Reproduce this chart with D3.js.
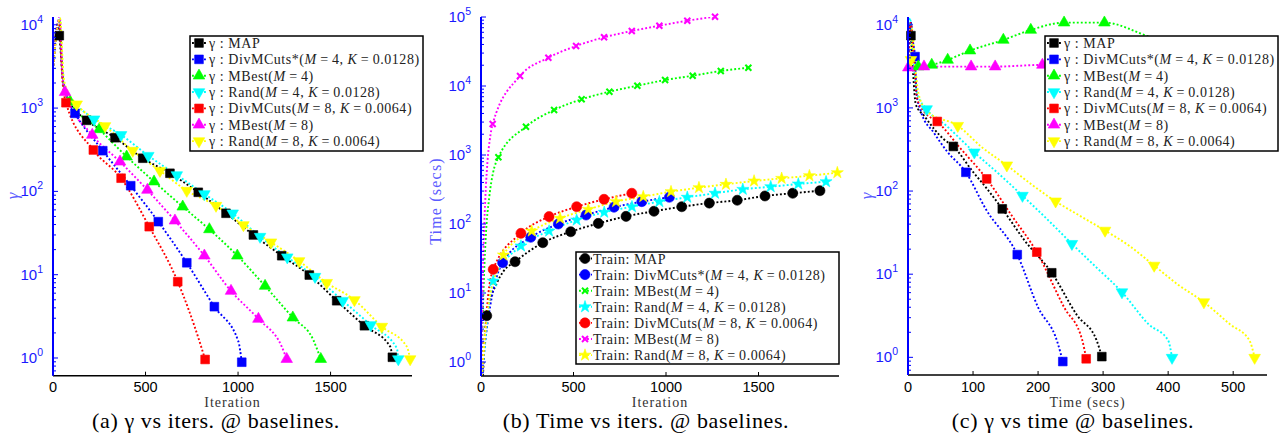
<!DOCTYPE html>
<html><head><meta charset="utf-8">
<script src="https://cdn.jsdelivr.net/npm/d3@7"></script>
<style>body{margin:0;background:#fff}svg{display:block}</style>
</head><body><svg id="c" width="1280" height="434"></svg>
<script>
// ================= DATA =================
const seriesNames = ["MAP","DivMCuts*(M=4, K=0.0128)","MBest(M=4)","Rand(M=4, K=0.0128)","DivMCuts(M=8, K=0.0064)","MBest(M=8)","Rand(M=8, K=0.0064)"];
const captions = ["(a) γ vs iters. @ baselines.","(b) Time vs iters. @ baselines.","(c) γ vs time @ baselines."];
const xLabels = ["Iteration","Iteration","Time (secs)"];
const yLabels = ["γ","Time (secs)","γ"];
const xTicksIter = [0,500,1000,1500];
const xTicksTime = [0,100,200,300,400,500];
const yDecadesGamma = [0,1,2,3,4];
const yDecadesTime = [0,1,2,3,4,5];

// (a) gamma vs iteration : markers / extra line points
const aMAP   = [[34,7400],[182,713],[335,441],[485,250],[632,165],[785,97.5],[935,54.6],[1083,30],[1236,16.9],[1385,9.9],[1533,4.87],[1683,2.44],[1834,1.02]];
const aMAPx  = [[0,2900],[26,10000],[55,2100],[80,1300],[120,950],[1822,1.37]];
const aDivS  = [[119,865],[269,308],[420,117],[569,43.3],[723,13.9],[872,4.13],[1020,0.89]];
const aDivSx = [[0,2900],[30,11000],[55,2000],[80,1250],[1002,1.57]];
const aMB4   = [[92,1194],[250,556],[398,261],[546,131],[701,65.5],[845,35],[996,16.9],[1146,7.32],[1296,3.05],[1447,0.97]];
const aMB4x  = [[0,2900],[34,11500],[55,2100],[72,1450],[1407,1.64]];
const aR4    = [[222,734],[368,476],[515,268],[669,157],[818,93],[971,54.6],[1119,28.6],[1266,16.2],[1416,9.46],[1566,4.87],[1717,2.49],[1866,0.97]];
const aR4x   = [[0,2900],[36,12000],[55,2200],[80,1450],[130,1050],[175,880],[1858,1.31]];
const aDiv8  = [[70,1160],[218,314],[368,144],[520,37.7],[674,8.24],[822,0.96]];
const aDiv8x = [[0,2900],[32,11000],[52,2000],[795,1.5]];
const aMB8   = [[65,1550],[212,476],[362,227],[510,104],[659,44.5],[818,16.9],[962,6.37],[1110,2.94],[1263,0.97]];
const aMB8x  = [[0,2900],[36,12500],[52,2400],[1236,1.37]];
const aR8    = [[128,1111],[281,610],[431,308],[578,177],[723,102],[881,67.4],[1029,39.5],[1178,24.5],[1330,14.6],[1479,8.0],[1629,4.97],[1777,2.38],[1930,0.97]];
const aR8x   = [[0,2900],[38,12000],[58,2300],[85,1500],[1912,1.37]];

// (b) time vs iteration
const bMAP   = [[31,4.69],[184,28.4],[334,53.6],[485,77.3],[634,102],[784,129],[935,153],[1085,178],[1234,201],[1385,221],[1535,255],[1685,279],[1832,304]];
const bMAPx  = [[10,0.55],[20,2.2],[85,13.8],[120,20.4]];
const bDivS  = [[117,27.5],[269,64.2],[418,100],[568,135],[719,175],[869,211],[1018,244]];
const bDivSx = [[4,0.55],[22,1.87],[49,6.3],[85,17.2]];
const bMB4   = [[94,926],[243,2570],[395,4490],[544,6420],[694,8270],[845,10100],[995,12200],[1144,14100],[1296,16500],[1445,18400]];
const bMB4x  = [[2,0.55],[12,8],[25,60],[45,250],[65,550]];
const bR4    = [[66,14.9],[216,48],[368,79],[517,114],[666,148],[816,178],[964,211],[1115,244],[1265,279],[1415,318],[1566,347],[1715,380],[1865,410]];
const bR4x   = [[4,0.55],[20,1.6],[40,6]];
const bDiv8  = [[66,22],[216,73.3],[368,128],[517,178],[665,228],[815,279]];
const bDiv8x = [[3,0.55],[22,2.6],[40,9.9]];
const bMB8   = [[63,2810],[211,13960],[364,25700],[514,38000],[665,50800],[815,62700],[964,74800],[1115,88300],[1265,101000]];
const bMB8x  = [[1,0.55],[8,10],[18,100],[35,800],[48,1700]];
const bR8    = [[121,35.5],[274,79],[427,121],[580,163],[730,211],[877,249],[1027,294],[1178,336],[1324,376],[1476,420],[1625,459],[1775,501],[1926,554]];
const bR8x   = [[3,0.55],[20,2.2],[45,8],[76,17.2]];

// (c) gamma vs time (secs)
const cMAP   = [[4.5,7400],[69.7,344],[145,61],[221,10.4],[298,1.02]];
const cMAPx  = [[0,3000],[3,10000],[8,2500],[12,1100],[25,800],[40,560],[55,420],[100,170],[120,110],[180,25],[260,3.2],[290,1.6]];
const cDivS  = [[10.8,4140],[89,168],[168,17.2],[238,0.89]];
const cDivSx = [[0,3000],[4,11000],[8,6000],[13,1500],[20,900],[40,500],[60,300],[120,60],[200,4],[230,1.5]];
const cMB4   = [[15.8,3140],[36.5,3290],[61,3780],[95.4,4890],[146.6,6570],[188.8,8660],[240,10600],[302,10600]];
const cMB4x  = [[0,3000],[375,7000],[420,5500],[552,3500]];
const cR4    = [[28.7,968],[102,292],[176,88],[252,23.2],[329,6.08],[406,0.99]];
const cR4x   = [[0,3000],[3,12000],[8,4000],[14,1500],[60,600],[140,160],[215,45],[290,12],[370,2.5],[400,1.6]];
const cDiv8  = [[45,687],[121,140],[198,18.4],[274,0.96]];
const cDiv8x = [[0,3000],[4,10500],[9,4000],[14,1300],[25,900],[80,330],[160,50],[240,4],[268,1.6]];
const cMB8   = [[0.5,3055],[24.6,3140],[97,3140],[134,3140],[206.6,3290]];
const cMB8x  = [[280,3300],[552,3300]];
const cR8    = [[4.6,3780],[76.5,610],[152,204],[227,75.2],[303,33.5],[378.5,12.7],[455,4.61],[533,0.99]];
const cR8x   = [[0,3000],[6,9000],[10,4000],[16,1500],[30,900],[115,330],[190,120],[265,50],[340,22],[415,7.5],[495,2.5],[525,1.6]];

// ================= STYLE / LAYOUT =================
const colors = ["#000000","#0000ff","#00ff00","#00ffff","#ff0000","#ff00ff","#ffff00"];
const gammaMarks = ["square","square","triUp","triDown","square","triUp","triDown"];
const timeMarks  = ["circle","circle","x","star","circle","x","star"];

const panels = [
  {x0:53, x1:412, yb:375.7, yt:17, xdom:[0,1940], ydom:[0.613,12400], xt:xTicksIter, yd:yDecadesGamma,
   marks:gammaMarks, prefix:"γ : ",
   data:[[aMAP,aMAPx],[aDivS,aDivSx],[aMB4,aMB4x],[aR4,aR4x],[aDiv8,aDiv8x],[aMB8,aMB8x],[aR8,aR8x]],
   leg:{x:190,y:36,w:233,h:115,r0:43,dr:16.35,mx:199,l0:190,l1:207,tx:209}, ylx:18, yly:196, capx:216},
  {x0:481, x1:839, yb:376, yt:17, xdom:[0,1935], ydom:[0.627,100000], xt:xTicksIter, yd:yDecadesTime,
   marks:timeMarks, prefix:"Train: ",
   data:[[bMAP,bMAPx],[bDivS,bDivSx],[bMB4,bMB4x],[bR4,bR4x],[bDiv8,bDiv8x],[bMB8,bMB8x],[bR8,bR8x]],
   leg:{x:576,y:252,w:263,h:112,r0:258.5,dr:16.1,mx:585,l0:577,l1:592,tx:593}, ylx:441, yly:201, capx:646},
  {x0:908, x1:1267, yb:375, yt:17, xdom:[0,552], ydom:[0.613,12400], xt:xTicksTime, yd:yDecadesGamma,
   marks:gammaMarks, prefix:"γ : ",
   data:[[cMAP,cMAPx],[cDivS,cDivSx],[cMB4,cMB4x],[cR4,cR4x],[cDiv8,cDiv8x],[cMB8,cMB8x],[cR8,cR8x]],
   leg:{x:1045,y:36,w:233,h:115,r0:43,dr:16.35,mx:1054,l0:1045,l1:1062,tx:1064}, ylx:872, yly:196, capx:1073}
];

const svg = d3.select("#c");
const SERIF = "'Liberation Serif','Times New Roman',serif";
const SANS = "'Liberation Sans',Arial,Helvetica,sans-serif";

function markerPath(type){
  switch(type){
    case "square": return d3.symbol(d3.symbolSquare, 76)();
    case "triUp": return d3.symbol(d3.symbolTriangle, 58)();
    case "triDown": return d3.symbol(d3.symbolTriangle, 58)();
    case "circle": return d3.symbol(d3.symbolCircle, 80)();
    case "star": return d3.symbol(d3.symbolStar, 45)();
    case "x": return "M-3,-3L3,3M-3,3L3,-3";
  }
}
function drawMarker(g, type, color, x, y){
  const p = g.append("path").attr("d", markerPath(type))
    .attr("transform", `translate(${x},${y})` + (type==="triDown"?" rotate(180)":""));
  if(type==="x"){ p.attr("fill","none").attr("stroke",color).attr("stroke-width",2); }
  else { p.attr("fill",color).attr("stroke",color).attr("stroke-width",0.6); }
}
function addName(t, prefix, name){
  t.append("tspan").text(prefix);
  const parts = name.split(/([MK])(?==)/);
  parts.forEach((p,i)=>{
    if(i%2===1) t.append("tspan").attr("font-style","italic").text(p);
    else t.append("tspan").text(p.replace(/=/g,"\u2009=\u2009"));
  });
}

panels.forEach((P,pi)=>{
  const x = d3.scaleLinear().domain(P.xdom).range([P.x0,P.x1]);
  const y = d3.scaleLog().domain(P.ydom).range([P.yb,P.yt]);
  const g = svg.append("g");
  const clipId = "clip"+pi;
  svg.append("clipPath").attr("id",clipId).append("rect")
    .attr("x",P.x0).attr("y",P.yt).attr("width",P.x1-P.x0).attr("height",P.yb-P.yt);

  // lines
  const line = d3.line().x(d=>x(d[0])).y(d=>y(d[1])).curve(d3.curveMonotoneX);
  P.data.forEach(([m,ex],si)=>{
    const pts = m.concat(ex).sort((a,b)=>a[0]-b[0]);
    g.append("path").attr("d",line(pts)).attr("fill","none")
      .attr("stroke",colors[si]).attr("stroke-width",1.9)
      .attr("stroke-dasharray","1.9,2.1").attr("clip-path",`url(#${clipId})`);
  });
  P.data.forEach(([m,ex],si)=>{
    const mg = g.append("g");
    m.forEach(d=>{ if(x(d[0])<=P.x1+2) drawMarker(mg,P.marks[si],colors[si],x(d[0]),y(d[1])); });
  });

  // axes
  const ax = svg.append("g");
  ax.append("line").attr("x1",P.x0).attr("x2",P.x1).attr("y1",P.yb).attr("y2",P.yb)
    .attr("stroke","#000").attr("stroke-width",1.5);
  P.xt.forEach(v=>{
    ax.append("line").attr("x1",x(v)).attr("x2",x(v)).attr("y1",P.yb).attr("y2",P.yb-4)
      .attr("stroke","#000").attr("stroke-width",1);
    ax.append("text").attr("x",x(v)).attr("y",392).attr("text-anchor","middle")
      .attr("font-family",SANS).attr("font-size",14.5).attr("fill","#000").text(v);
  });
  ax.append("line").attr("x1",P.x0).attr("x2",P.x0).attr("y1",P.yt).attr("y2",P.yb)
    .attr("stroke","#0000ff").attr("stroke-width",2);
  // y ticks (major + minor)
  const lo = Math.floor(Math.log10(P.ydom[0])), hi = Math.ceil(Math.log10(P.ydom[1]));
  for(let e=lo;e<=hi;e++){
    for(let k=1;k<10;k++){
      const v = k*Math.pow(10,e);
      if(v<P.ydom[0]||v>P.ydom[1]*1.0001) continue;
      ax.append("line").attr("x1",P.x0).attr("x2",P.x0+(k===1?5:3)).attr("y1",y(v)).attr("y2",y(v))
        .attr("stroke","#0000ff").attr("stroke-width",1);
    }
  }
  P.yd.forEach(e=>{
    const t = ax.append("text").attr("x",P.x0-10).attr("y",y(Math.pow(10,e))+5)
      .attr("text-anchor","end").attr("font-family",SANS).attr("font-size",15).attr("fill","#1a1aff");
    t.append("tspan").text("10");
    t.append("tspan").attr("dy",-7).attr("font-size",10.5).text(e);
  });
  // axis labels
  svg.append("text").attr("x",(P.x0+P.x1)/2).attr("y",406.5).attr("text-anchor","middle")
    .attr("font-family",SERIF).attr("font-size",14).attr("letter-spacing",1.0).attr("fill","#333")
    .text(xLabels[pi]);
  svg.append("text").attr("transform",`translate(${P.ylx},${P.yly}) rotate(-90)`)
    .attr("text-anchor","middle").attr("font-family",SERIF).attr("font-size",pi===1?16:17)
    .attr("letter-spacing",pi===1?1.2:0).attr("fill","#5b5bff").attr("font-style",pi===1?"normal":"italic")
    .text(yLabels[pi]);
  // caption
  svg.append("text").attr("x",P.capx).attr("y",428).attr("text-anchor","middle")
    .attr("font-family",SERIF).attr("font-size",22).attr("letter-spacing",0.6).attr("fill","#000")
    .text(captions[pi]);

  // legend
  const L = P.leg, lg = svg.append("g");
  lg.append("rect").attr("x",L.x).attr("y",L.y).attr("width",L.w).attr("height",L.h)
    .attr("fill","#fff").attr("stroke","#000").attr("stroke-width",1.5);
  seriesNames.forEach((nm,si)=>{
    const ry = L.r0 + si*L.dr;
    lg.append("line").attr("x1",L.l0+2).attr("x2",L.l1).attr("y1",ry).attr("y2",ry)
      .attr("stroke",colors[si]).attr("stroke-width",1.9).attr("stroke-dasharray","1.9,2.1");
    drawMarker(lg,P.marks[si],colors[si],L.mx,ry);
    const t = lg.append("text").attr("x",L.tx).attr("y",ry+5).attr("font-family",SERIF)
      .attr("font-size",14).attr("letter-spacing",0.55).attr("fill","#222");
    addName(t,P.prefix,nm);
  });
});
</script></body></html>
